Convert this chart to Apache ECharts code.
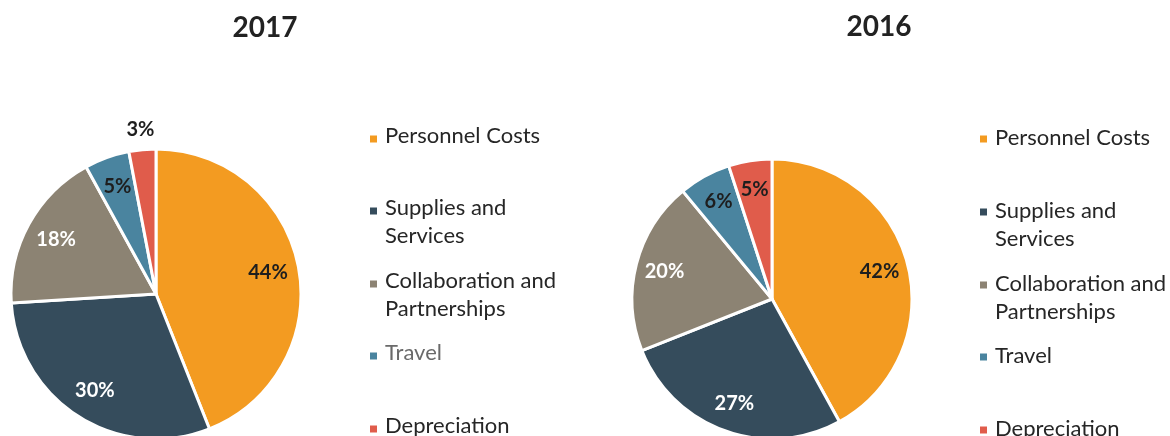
<!DOCTYPE html>
<html>
<head>
<meta charset="utf-8">
<script src="https://cdn.jsdelivr.net/npm/echarts@6/dist/echarts.min.js"></script>
<style>
  html, body { margin: 0; padding: 0; background: #fff; }
  #chart { width: 1170px; height: 436px; }
</style>
</head>
<body>
<div id="chart"></div>
<script>
const categories = ['Personnel Costs', 'Supplies and Services', 'Collaboration and Partnerships', 'Travel', 'Depreciation'];
// legend text; the leading blank line keeps the marker on the first line of two-line items
const legendText = ['Personnel Costs', '\nSupplies and\nServices', '\nCollaboration and\nPartnerships', 'Travel', 'Depreciation'];
const years = ['2017', '2016'];
const values2017 = [44, 30, 18, 5, 3];
const values2016 = [42, 27, 20, 6, 5];
const outside2017 = [false, false, false, false, true];
const outside2016 = [false, false, false, false, false];

const colors = ['#F39B21', '#354C5C', '#8C8373', '#4A849F', '#E05C4B'];
const labelColors = ['#1e1e1e', '#ffffff', '#ffffff', '#1e1e1e', '#1e1e1e'];
const FONT = 'Lato';
const LINE_H = 28;
const MARK = 7;

// one pie per year: center, radius, label ring, legend x and marker y positions
const charts = [
  { values: values2017, outside: outside2017, cx: 156, cy: 294, r: 145, innerRing: 77, titleX: 265, titleY: 28,
    legendX: 370, markerY: [139, 211, 284, 356, 429], textLift: 3,
    legendColors: ['#262626', '#262626', '#262626', '#6a6a6a', '#262626'] },
  { values: values2016, outside: outside2016, cx: 772, cy: 299, r: 140, innerRing: 76, titleX: 879, titleY: 27,
    legendX: 980, markerY: [139, 212, 285, 357, 430], textLift: 1,
    legendColors: ['#262626', '#262626', '#262626', '#262626', '#262626'] }
];

const labelBase = {
  formatter: '{c}%',
  fontFamily: FONT,
  fontWeight: 'bold',
  fontSize: 20
};

const series = [];
const legends = [];
const titles = [];

charts.forEach((c, k) => {
  titles.push({
    text: years[k],
    left: c.titleX,
    top: c.titleY,
    textAlign: 'center',
    textVerticalAlign: 'middle',
    padding: 0,
    textStyle: { fontFamily: FONT, fontWeight: 'bold', fontSize: 28, color: '#222' }
  });

  // the slices
  series.push({
    type: 'pie',
    center: [c.cx, c.cy],
    radius: [0, c.r],
    startAngle: 90,
    silent: true,
    avoidLabelOverlap: false,
    label: { show: false },
    labelLine: { show: false },
    itemStyle: { borderColor: '#fff', borderWidth: 3 },
    data: categories.map((name, i) => ({ name, value: c.values[i] }))
  });

  // transparent ring, only used to place the inside labels further out
  series.push({
    type: 'pie',
    center: [c.cx, c.cy],
    radius: [c.innerRing, c.r],
    startAngle: 90,
    silent: true,
    avoidLabelOverlap: false,
    labelLine: { show: false },
    itemStyle: { color: 'transparent', borderWidth: 0 },
    data: categories.map((name, i) => ({
      name, value: c.values[i],
      label: Object.assign({ show: !c.outside[i], position: 'inside', color: labelColors[i] }, labelBase)
    }))
  });

  // transparent ring outside the pie for labels of the small slices
  series.push({
    type: 'pie',
    center: [c.cx, c.cy],
    radius: [c.r + 2, c.r + 32],
    startAngle: 90,
    silent: true,
    avoidLabelOverlap: false,
    labelLine: { show: false },
    itemStyle: { color: 'transparent', borderWidth: 0 },
    data: categories.map((name, i) => ({
      name, value: c.values[i],
      label: Object.assign({ show: c.outside[i], position: 'inside', color: '#1e1e1e' }, labelBase)
    }))
  });

  // marker square sits at the bottom of a taller icon box, so it ends up a bit
  // below the middle of the text line
  const iconH = MARK + 2 * c.textLift;
  const icon = 'path://M0,0L0,0M0,' + (2 * c.textLift) + 'h' + MARK + 'v' + MARK + 'h-' + MARK + 'z';
  const squareY = iconH - MARK / 2;

  categories.forEach((name, i) => {
    const lines = legendText[i].split('\n').length;
    legends.push({
      data: [{ name, textStyle: { color: c.legendColors[i] } }],
      orient: 'vertical',
      left: c.legendX,
      top: c.markerY[i] - squareY + iconH / 2 - lines * LINE_H / 2,
      padding: 0,
      selectedMode: false,
      icon: icon,
      itemWidth: MARK,
      itemHeight: iconH,
      itemStyle: { borderWidth: 0 },
      formatter: () => legendText[i],
      textStyle: { fontFamily: FONT, fontSize: 22, lineHeight: LINE_H, padding: [0, 0, 0, 3], color: '#262626' }
    });
  });
});

const chart = echarts.init(document.getElementById('chart'));
chart.setOption({
  animation: false,
  color: colors,
  title: titles,
  legend: legends,
  series: series
});
</script>
</body>
</html>
